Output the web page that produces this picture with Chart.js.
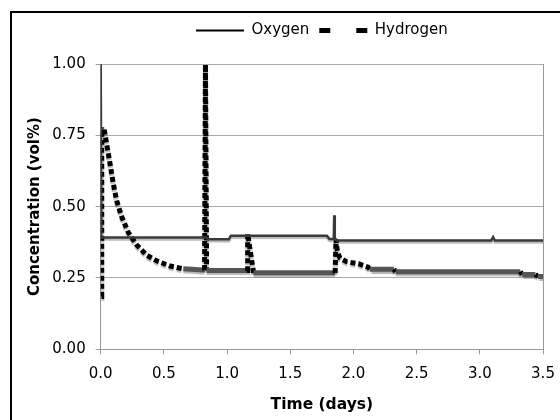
<!DOCTYPE html>
<html>
<head>
<meta charset="utf-8">
<script src="https://cdn.jsdelivr.net/npm/chart.js@4.4.0/dist/chart.umd.min.js"></script>
<style>
    html, body { margin: 0; padding: 0; background: #fff; }
</style>
</head>
<body>
<canvas id="myChart" width="560" height="420"></canvas>
<script>
// data
const oxygenTime = [0, 0.004, 0.82, 0.835, 0.85, 1.015, 1.03, 1.79, 1.81, 1.845, 1.848, 1.852, 1.87, 1.89, 3.09, 3.105, 3.12, 3.5];
const oxygenConc = [1.00, 0.392, 0.392, 0.392, 0.386, 0.386, 0.398, 0.398, 0.387, 0.387, 0.47, 0.39, 0.382, 0.381, 0.381, 0.393, 0.381, 0.381];

const hydrogenTime = [0.006, 0.008, 0.028, 0.047, 0.074, 0.10, 0.127, 0.166, 0.218, 0.285,
    0.364, 0.443, 0.548, 0.654, 0.81, 0.822, 0.829, 0.838, 1.158, 1.163,
    1.21, 1.855, 1.862, 1.872, 1.893, 1.946, 2.04, 2.117, 2.13, 2.32,
    2.335, 3.32, 3.335, 3.44, 3.46, 3.5];
const hydrogenConc = [0.185, 0.77, 0.77, 0.72, 0.65, 0.58, 0.52, 0.465, 0.41, 0.366,
    0.33, 0.31, 0.292, 0.282, 0.278, 0.278, 0.998, 0.276, 0.276, 0.405,
    0.268, 0.268, 0.385, 0.345, 0.32, 0.307, 0.30, 0.288, 0.281, 0.281,
    0.272, 0.272, 0.262, 0.262, 0.255, 0.255];

const xTickLabels = ['0.0', '0.5', '1.0', '1.5', '2.0', '2.5', '3.0', '3.5'];
const yTickLabels = ['0.00', '0.25', '0.50', '0.75', '1.00'];

const toPoints = (xs, ys) => xs.map((x, i) => ({ x: x, y: ys[i] }));

// steep pieces of the hydrogen trace show as black dashes, flat ones as grey
const steep = (c) => Math.abs(c.p1.y - c.p0.y) > Math.abs(c.p1.x - c.p0.x) * 0.15;

// outer frame + right edge of the plot box
const frame = {
    id: 'frame',
    beforeDraw(chart) {
        const c = chart.ctx;
        c.save();
        c.fillStyle = '#fff';
        c.fillRect(0, 0, chart.width, chart.height);
        c.strokeStyle = '#000';
        c.lineWidth = 2;
        c.strokeRect(11, 12, 600, 500);
        c.restore();
    },
    beforeDatasetsDraw(chart) {
        const a = chart.chartArea;
        const c = chart.ctx;
        c.save();
        c.strokeStyle = '#999';
        c.lineWidth = 1;
        c.beginPath();
        c.moveTo(Math.round(a.right) + 0.5, a.top);
        c.lineTo(Math.round(a.right) + 0.5, a.bottom);
        c.stroke();
        c.restore();
        // soft grey shadow under the traces
        c.save();
        c.shadowColor = 'rgba(0,0,0,0.28)';
        c.shadowOffsetY = 2;
        c.shadowBlur = 1;
    },
    afterDatasetsDraw(chart) {
        chart.ctx.restore();
    }
};

// extra room under the legend
const legendGap = {
    id: 'legendGap',
    beforeInit(chart) {
        const fit = chart.legend.fit;
        chart.legend.fit = function () {
            fit.bind(chart.legend)();
            this.height += 16;
        };
    }
};

const ctx = document.getElementById('myChart');

const config = {
    type: 'line',
    data: {
        datasets: [{
            label: 'Oxygen',
            data: toPoints(oxygenTime, oxygenConc),
            borderColor: '#3a3a3a',
            borderWidth: 2.5,
            pointRadius: 0,
            tension: 0
        },
        {
            label: 'Hydrogen',
            data: toPoints(hydrogenTime, hydrogenConc),
            borderColor: '#000',
            borderWidth: 5,
            pointRadius: 0,
            tension: 0,
            segment: {
                borderColor: c => steep(c) ? '#000' : '#555',
                borderDash: c => steep(c) ? [5, 3] : undefined
            }
        }]
    },
    options: {
        responsive: false,
        animation: false,
        layout: {
            padding: { left: 22, right: 17, top: 13, bottom: 0 }
        },
        plugins: {
            legend: {
                position: 'top',
                fullSize: false,
                labels: {
                    color: '#000',
                    font: { family: 'DejaVu Sans', size: 15 },
                    usePointStyle: true,
                    pointStyle: 'line',
                    pointStyleWidth: 48,
                    padding: 10,
                    generateLabels() {
                        return [
                            { text: 'Oxygen', strokeStyle: '#000', fillStyle: '#000', lineWidth: 2, lineDash: [], pointStyle: 'line', datasetIndex: 0 },
                            { text: 'Hydrogen', strokeStyle: '#000', fillStyle: '#000', lineWidth: 5, lineDash: [11, 26], pointStyle: 'line', datasetIndex: 1 }
                        ];
                    }
                }
            },
            tooltip: { enabled: false }
        },
        scales: {
            x: {
                type: 'linear',
                min: 0,
                max: 3.5,
                afterFit(s) {
                    s.height = 70.7;
                    s.paddingLeft = 0;
                    s.paddingRight = 0;
                },
                ticks: {
                    stepSize: 0.5,
                    color: '#000',
                    padding: 11,
                    maxRotation: 0,
                    font: { family: 'DejaVu Sans', size: 15 },
                    callback: (v, i) => xTickLabels[i]
                },
                grid: {
                    drawOnChartArea: false,
                    tickLength: 5,
                    tickColor: '#999'
                },
                border: { color: '#999' },
                title: {
                    display: true,
                    text: 'Time (days)',
                    color: '#000',
                    font: { family: 'DejaVu Sans', size: 15.5, weight: 'bold' },
                    padding: { top: 0, bottom: 6 }
                }
            },
            y: {
                min: 0,
                max: 1,
                afterFit(s) { s.width = 78.7; },
                ticks: {
                    stepSize: 0.25,
                    color: '#000',
                    padding: 10,
                    font: { family: 'DejaVu Sans', size: 15 },
                    callback: (v, i) => yTickLabels[i]
                },
                grid: {
                    color: '#aaa',
                    tickLength: 5,
                    tickColor: '#999'
                },
                border: { color: '#999' },
                title: {
                    display: true,
                    text: 'Concentration (vol%)',
                    color: '#000',
                    font: { family: 'DejaVu Sans', size: 15, weight: 'bold' },
                    padding: { top: 4, bottom: 4 }
                }
            }
        }
    },
    plugins: [frame, legendGap]
};

const chart = new Chart(ctx, config);
</script>
</body>
</html>
